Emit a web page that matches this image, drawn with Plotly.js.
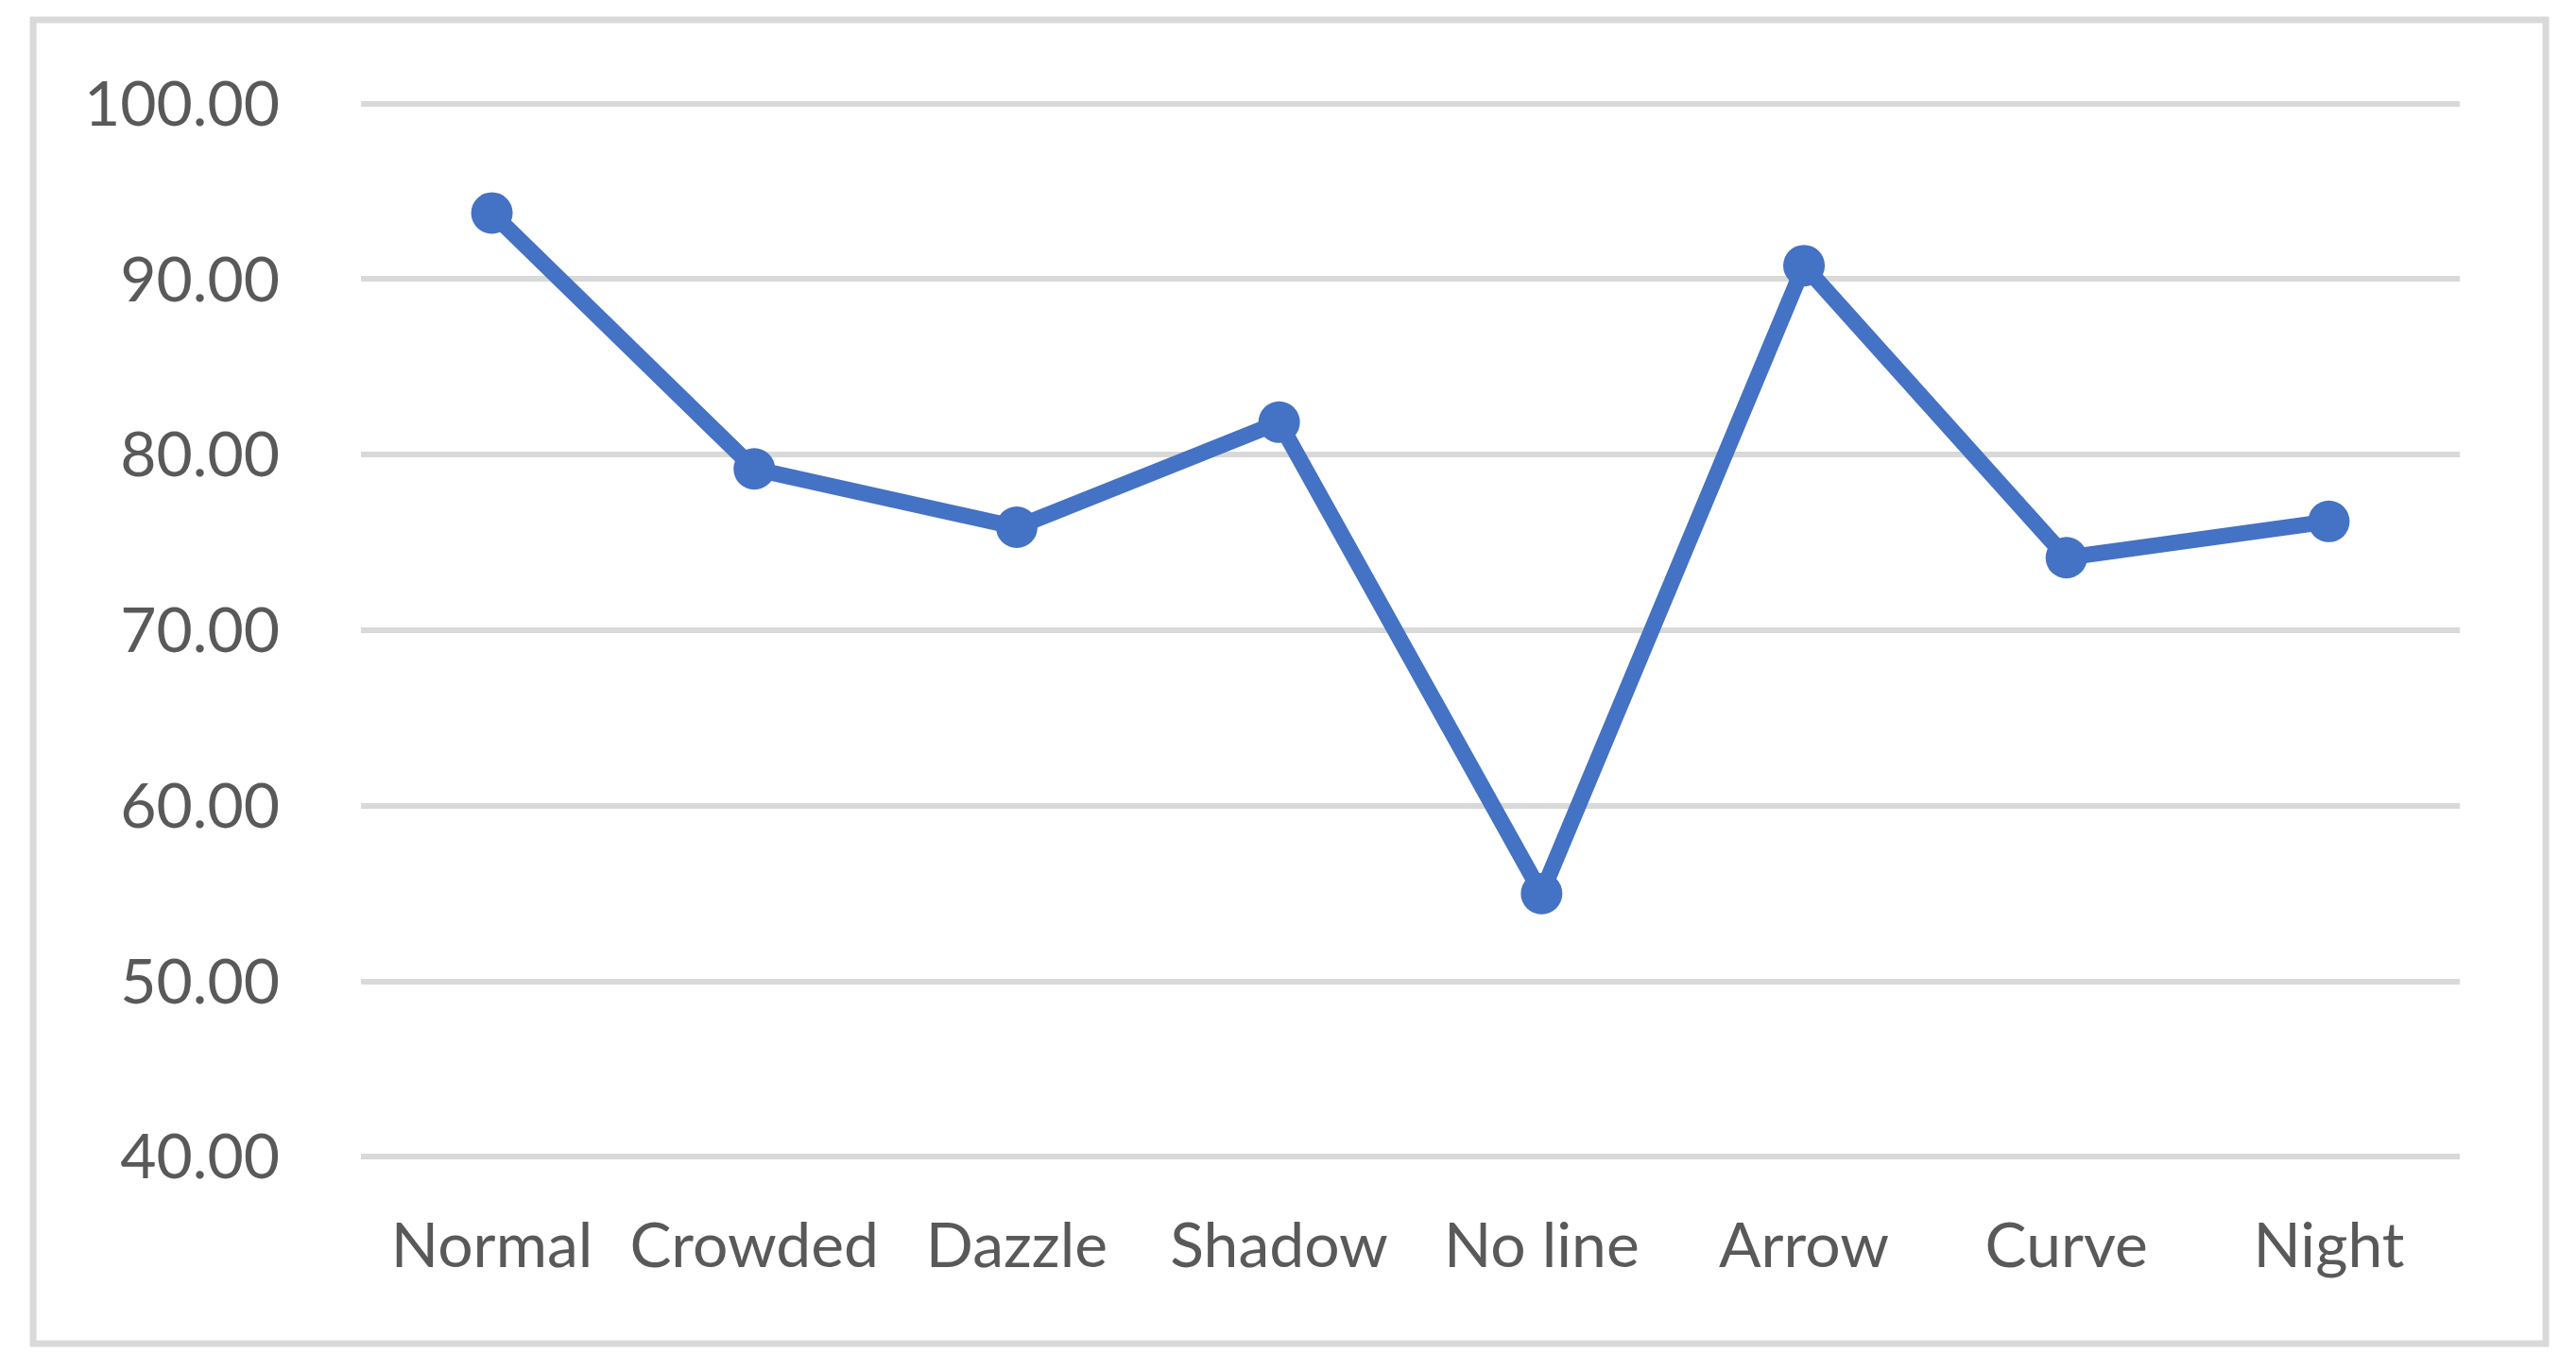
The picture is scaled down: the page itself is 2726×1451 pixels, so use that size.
<!DOCTYPE html>
<html>
<head>
<meta charset="utf-8">
<script src="https://cdn.plot.ly/plotly-3.0.1.min.js"></script>
<style>
  html, body { margin: 0; padding: 0; background: #ffffff; }
  #chart { width: 2726px; height: 1451px; }
</style>
</head>
<body>
<div id="chart"></div>
<script>
const categories = ["Normal", "Crowded", "Dazzle", "Shadow", "No line", "Arrow", "Curve", "Night"];
const values = [93.77, 79.19, 75.87, 81.85, 55.0, 90.77, 74.13, 76.2];
const yTickValues = [40, 50, 60, 70, 80, 90, 100];
const yTickLabels = ["40.00", "50.00", "60.00", "70.00", "80.00", "90.00", "100.00"];

const trace = {
  x: categories,
  y: values,
  type: "scatter",
  mode: "lines+markers",
  line: { color: "#4472C4", width: 17 },
  marker: { color: "#4472C4", size: 44 },
  hoverinfo: "x+y"
};

const layout = {
  width: 2726,
  height: 1451,
  paper_bgcolor: "#ffffff",
  plot_bgcolor: "#ffffff",
  margin: { l: 382, r: 123, t: 106, b: 223 },
  showlegend: false,
  font: { family: "Lato, 'Open Sans', sans-serif", size: 66, color: "#595959" },
  xaxis: {
    type: "category",
    showgrid: false,
    zeroline: false,
    showline: false,
    ticks: "",
    ticklabelstandoff: 46,
    tickfont: { family: "Lato, sans-serif", size: 66, color: "#595959" }
  },
  yaxis: {
    range: [39.8, 100.2],
    tickvals: yTickValues,
    ticktext: yTickLabels,
    showgrid: true,
    gridcolor: "#D9D9D9",
    gridwidth: 6,
    zeroline: false,
    showline: false,
    ticks: "",
    ticklabelstandoff: 85,
    tickfont: { family: "Lato, sans-serif", size: 66, color: "#595959" }
  },
  shapes: [{
    type: "rect",
    xref: "paper", yref: "paper",
    x0: -0.1562, x1: 1.041, y0: -0.1729, y1: 1.0758,
    line: { color: "#D9D9D9", width: 7 },
    fillcolor: "rgba(0,0,0,0)",
    layer: "below"
  }]
};

Plotly.newPlot("chart", [trace], layout, { displayModeBar: false, staticPlot: true });
</script>
</body>
</html>
